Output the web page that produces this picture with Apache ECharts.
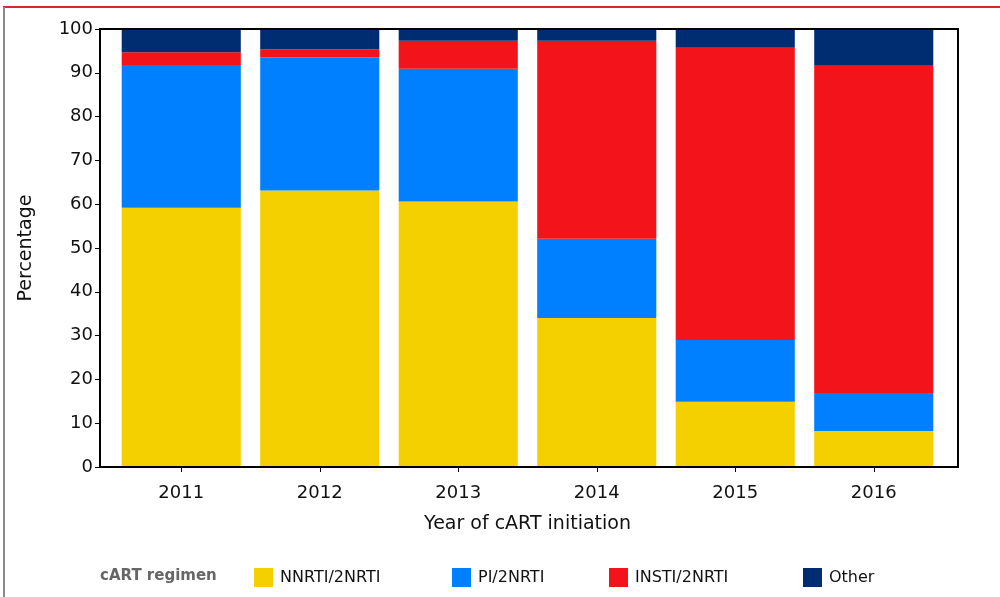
<!DOCTYPE html>
<html>
<head>
<meta charset="utf-8">
<script src="https://cdn.jsdelivr.net/npm/echarts@6/dist/echarts.min.js"></script>
<style>
  html, body { margin: 0; padding: 0; background: #fff; }
  #chart { width: 1000px; height: 597px; }
</style>
</head>
<body>
<div id="chart"></div>
<script>
// years of cART initiation
var years = ['2011', '2012', '2013', '2014', '2015', '2016'];

// percentage of each regimen per year
var nnrti = [59.2, 63.1, 60.6, 34.0, 14.9, 8.2];
var pi    = [32.6, 30.4, 30.3, 18.1, 14.1, 8.7];
var insti = [2.9, 1.9, 6.4, 45.2, 66.7, 74.7];
var other = [5.3, 4.6, 2.7, 2.7, 4.3, 8.4];

var names  = ['NNRTI/2NRTI', 'PI/2NRTI', 'INSTI/2NRTI', 'Other'];
var colors = ['#F5D000', '#0080FF', '#F2131B', '#002D72'];
var values = [nnrti, pi, insti, other];
var legendLeft = [254, 452, 609, 803];

var font = '"DejaVu Sans", Verdana, sans-serif';

var chart = echarts.init(document.getElementById('chart'));

var series = names.map(function (n, i) {
    return {
        name: n,
        type: 'bar',
        stack: 'total',
        barCategoryGap: '14%',
        itemStyle: { color: colors[i] },
        data: values[i]
    };
});

var legends = names.map(function (n, i) {
    return {
        data: [n],
        left: legendLeft[i],
        top: 568,
        padding: 0,
        icon: 'rect',
        itemWidth: 19,
        itemHeight: 19,
        itemGap: 0,
        selectedMode: false,
        textStyle: { fontFamily: font, fontSize: 16, color: '#111', padding: [0, 0, 0, 2] }
    };
});

chart.setOption({
    animation: false,
    backgroundColor: '#fff',
    title: {
        text: 'cART regimen',
        left: 100,
        top: 569,
        padding: 0,
        textStyle: { fontFamily: font, fontSize: 15, fontWeight: 'bold', color: '#666' }
    },
    legend: legends,
    grid: { left: 112, right: 57, top: 29, bottom: 130 },
    xAxis: {
        type: 'category',
        data: years,
        name: 'Year of cART initiation',
        nameLocation: 'middle',
        nameGap: 48,
        nameTextStyle: { fontFamily: font, fontSize: 19, color: '#111' },
        axisLine: { show: false },
        axisTick: { show: true, alignWithLabel: true, length: 5, lineStyle: { color: '#000' } },
        axisLabel: { fontFamily: font, fontSize: 18, color: '#111', margin: 17 }
    },
    yAxis: {
        type: 'value',
        min: 0,
        max: 100,
        interval: 10,
        offset: 12,
        name: 'Percentage',
        nameLocation: 'middle',
        nameGap: 64,
        nameTextStyle: { fontFamily: font, fontSize: 19, color: '#111' },
        axisLine: { show: false },
        axisTick: { show: true, length: 5, lineStyle: { color: '#000' } },
        axisLabel: { fontFamily: font, fontSize: 18, color: '#111', margin: 7 },
        splitLine: { show: false }
    },
    graphic: [
        {   // plot frame
            type: 'rect',
            z: 10,
            shape: { x: 100, y: 29, width: 858, height: 438 },
            style: { fill: 'none', stroke: '#000', lineWidth: 2 }
        },
        {   // page border, top
            type: 'line',
            shape: { x1: 3, y1: 7, x2: 1000, y2: 7 },
            style: { stroke: '#D7282F', lineWidth: 2 }
        },
        {   // page border, left
            type: 'line',
            shape: { x1: 4, y1: 7, x2: 4, y2: 597 },
            style: { stroke: '#8a8a8a', lineWidth: 2 }
        }
    ],
    series: series
});
</script>
</body>
</html>
